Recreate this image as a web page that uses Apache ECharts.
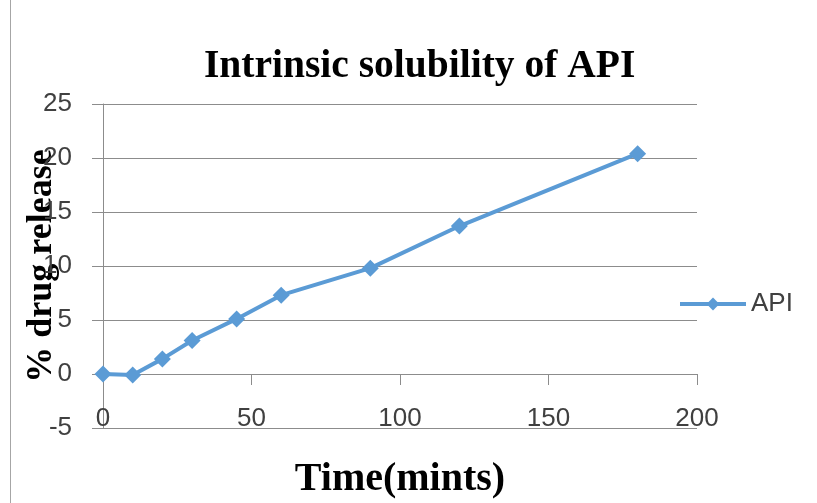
<!DOCTYPE html>
<html>
<head>
<meta charset="utf-8">
<script src="https://cdn.jsdelivr.net/npm/echarts@6/dist/echarts.min.js"></script>
<style>
	html, body { margin: 0; padding: 0; background: #fff; }
	#chart { width: 817px; height: 503px; }
</style>
</head>
<body>
<div id="chart"></div>
<script>
var timeMin = [0, 10, 20, 30, 45, 60, 90, 120, 180];
var drugRelease = [0, -0.1, 1.4, 3.1, 5.1, 7.3, 9.8, 13.7, 20.4];
var seriesName = 'API';
var xRange = [0, 200, 50];
var yRange = [-5, 25, 5];

var Chart = {
	lineColor: '#5b9bd5',
	gridColor: '#8c8c8c',
	labelColor: '#404040',
	init: function(el) {
		var _this = this,
			points = [];

		for(var i = 0; i < timeMin.length; i++) {
			points.push([timeMin[i], drugRelease[i]]);
		}

		var labelStyle = {
			fontFamily: 'Liberation Sans',
			fontSize: 26,
			color: _this.labelColor
		};

		var option = {
			animation: false,
			backgroundColor: '#fff',
			title: {
				text: 'Intrinsic solubility of API',
				left: 199,
				top: 42,
				textStyle: {
					fontFamily: 'Liberation Serif',
					fontWeight: 'bold',
					fontSize: 39.5,
					color: '#000'
				}
			},
			legend: {
				data: [seriesName],
				left: 673,
				top: 286,
				itemWidth: 66,
				itemHeight: 16,
				itemGap: 6,
				lineStyle: { width: 4 },
				textStyle: labelStyle
			},
			grid: {
				left: 103,
				right: 120,
				top: 104,
				bottom: 75,
				outerBoundsMode: 'none'
			},
			xAxis: {
				type: 'value',
				min: xRange[0],
				max: xRange[1],
				interval: xRange[2],
				name: 'Time(mints)',
				nameLocation: 'middle',
				nameGap: 32,
				nameMoveOverlap: false,
				nameTextStyle: {
					fontFamily: 'Liberation Serif',
					fontWeight: 'bold',
					fontSize: 40,
					color: '#000'
				},
				axisLine: {
					onZero: true,
					lineStyle: { color: _this.gridColor, width: 1 }
				},
				axisTick: {
					show: true,
					length: 11,
					lineStyle: { color: _this.gridColor }
				},
				// labels sit just above the -5 gridline, as in the original
				axisLabel: Object.assign({ margin: -22 }, labelStyle),
				splitLine: { show: false }
			},
			yAxis: {
				type: 'value',
				min: yRange[0],
				max: yRange[1],
				interval: yRange[2],
				name: '% drug release',
				nameLocation: 'middle',
				nameRotate: 90,
				nameGap: 43,
				// the title overlaps the tick labels in the original
				nameMoveOverlap: false,
				nameTextStyle: {
					fontFamily: 'Liberation Serif',
					fontWeight: 'bold',
					fontSize: 36,
					color: '#000'
				},
				axisLine: {
					show: true,
					onZero: false,
					lineStyle: { color: _this.gridColor, width: 1 }
				},
				axisTick: {
					show: true,
					length: 11,
					lineStyle: { color: _this.gridColor }
				},
				axisLabel: Object.assign({ margin: 31 }, labelStyle),
				splitLine: {
					show: true,
					lineStyle: { color: _this.gridColor, width: 1 }
				}
			},
			graphic: [{
				type: 'line',
				shape: { x1: 10.5, y1: 0, x2: 10.5, y2: 503 },
				style: { stroke: '#a6a6a6', lineWidth: 1 }
			}],
			series: [{
				name: seriesName,
				type: 'line',
				data: points,
				symbol: 'diamond',
				symbolSize: 17,
				lineStyle: { color: _this.lineColor, width: 4 },
				itemStyle: { color: _this.lineColor }
			}]
		};

		var chart = echarts.init(el);
		chart.setOption(option);
		return chart;
	}
};

Chart.init(document.getElementById('chart'));
</script>
</body>
</html>
